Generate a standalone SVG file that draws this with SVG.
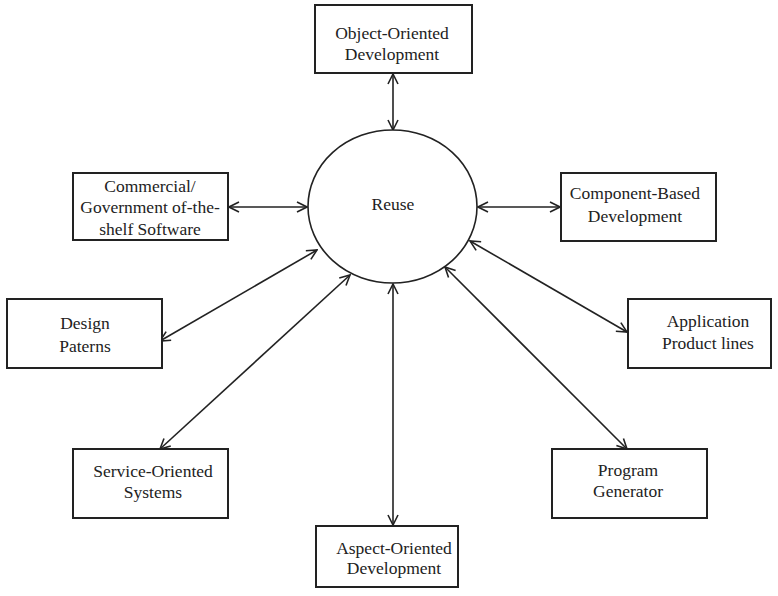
<svg xmlns="http://www.w3.org/2000/svg" width="778" height="596" viewBox="0 0 778 596">
  <style>
    .box { fill: #ffffff; stroke: #222222; stroke-width: 2; }
    .hub { fill: #ffffff; stroke: #222222; stroke-width: 1.6; }
    .lbl { font-family: 'Liberation Serif', 'Times New Roman', Times, 'DejaVu Serif', serif; font-size: 17.5px; fill: #222222; text-anchor: middle; }
    .link { stroke: #222222; stroke-width: 1.6; fill: none; marker-start: url(#head); marker-end: url(#head); }
  </style>
  <defs>
    <marker id="head" viewBox="0 0 12 12" refX="11" refY="6" markerWidth="12" markerHeight="12" markerUnits="userSpaceOnUse" orient="auto-start-reverse">
      <path d="M1,1 L11,6 L1,11" fill="none" stroke="#222222" stroke-width="1.6"/>
    </marker>
  </defs>

  <rect width="778" height="596" fill="#ffffff"/>

  <!-- connectors -->
  <g id="connectors">
    <line class="link" x1="393" y1="74" x2="393" y2="130"/>
    <line class="link" x1="229" y1="207" x2="307" y2="207"/>
    <line class="link" x1="478" y1="207" x2="560" y2="207"/>
    <line class="link" x1="160" y1="341" x2="317" y2="250"/>
    <line class="link" x1="160" y1="449" x2="350" y2="275"/>
    <line class="link" x1="393" y1="284" x2="393" y2="525"/>
    <line class="link" x1="627" y1="449" x2="445" y2="267"/>
    <line class="link" x1="627" y1="332" x2="470" y2="241"/>
  </g>

  <!-- central hub -->
  <g id="reuse">
    <ellipse class="hub" cx="392.5" cy="206.5" rx="84.5" ry="76.5"/>
    <text class="lbl" x="393" y="210" font-family="Liberation Serif, serif">Reuse</text>
  </g>

  <g id="object-oriented">
    <rect class="box" x="315" y="5" width="157" height="68"/>
    <text class="lbl" x="392" y="39">Object-Oriented</text>
    <text class="lbl" x="392" y="60">Development</text>
  </g>

  <g id="cots">
    <rect class="box" x="73" y="173" width="155" height="67"/>
    <text class="lbl" x="150" y="192">Commercial/</text>
    <text class="lbl" x="150" y="213">Government of-the-</text>
    <text class="lbl" x="150" y="235">shelf Software</text>
  </g>

  <g id="component-based">
    <rect class="box" x="561" y="173" width="155" height="68"/>
    <text class="lbl" x="635" y="199">Component-Based</text>
    <text class="lbl" x="635" y="222">Development</text>
  </g>

  <g id="design-patterns">
    <rect class="box" x="7" y="299" width="155" height="69"/>
    <text class="lbl" x="85" y="329">Design</text>
    <text class="lbl" x="85" y="352">Paterns</text>
  </g>

  <g id="application-product-lines">
    <rect class="box" x="628" y="299" width="143" height="69"/>
    <text class="lbl" x="708" y="327">Application</text>
    <text class="lbl" x="708" y="349">Product lines</text>
  </g>

  <g id="service-oriented">
    <rect class="box" x="73" y="449" width="155" height="69"/>
    <text class="lbl" x="153" y="477">Service-Oriented</text>
    <text class="lbl" x="153" y="498">Systems</text>
  </g>

  <g id="program-generator">
    <rect class="box" x="552" y="449" width="155" height="69"/>
    <text class="lbl" x="628" y="476">Program</text>
    <text class="lbl" x="628" y="497">Generator</text>
  </g>

  <g id="aspect-oriented">
    <rect class="box" x="316" y="526" width="142" height="61"/>
    <text class="lbl" x="394" y="554">Aspect-Oriented</text>
    <text class="lbl" x="394" y="574">Development</text>
  </g>
</svg>
